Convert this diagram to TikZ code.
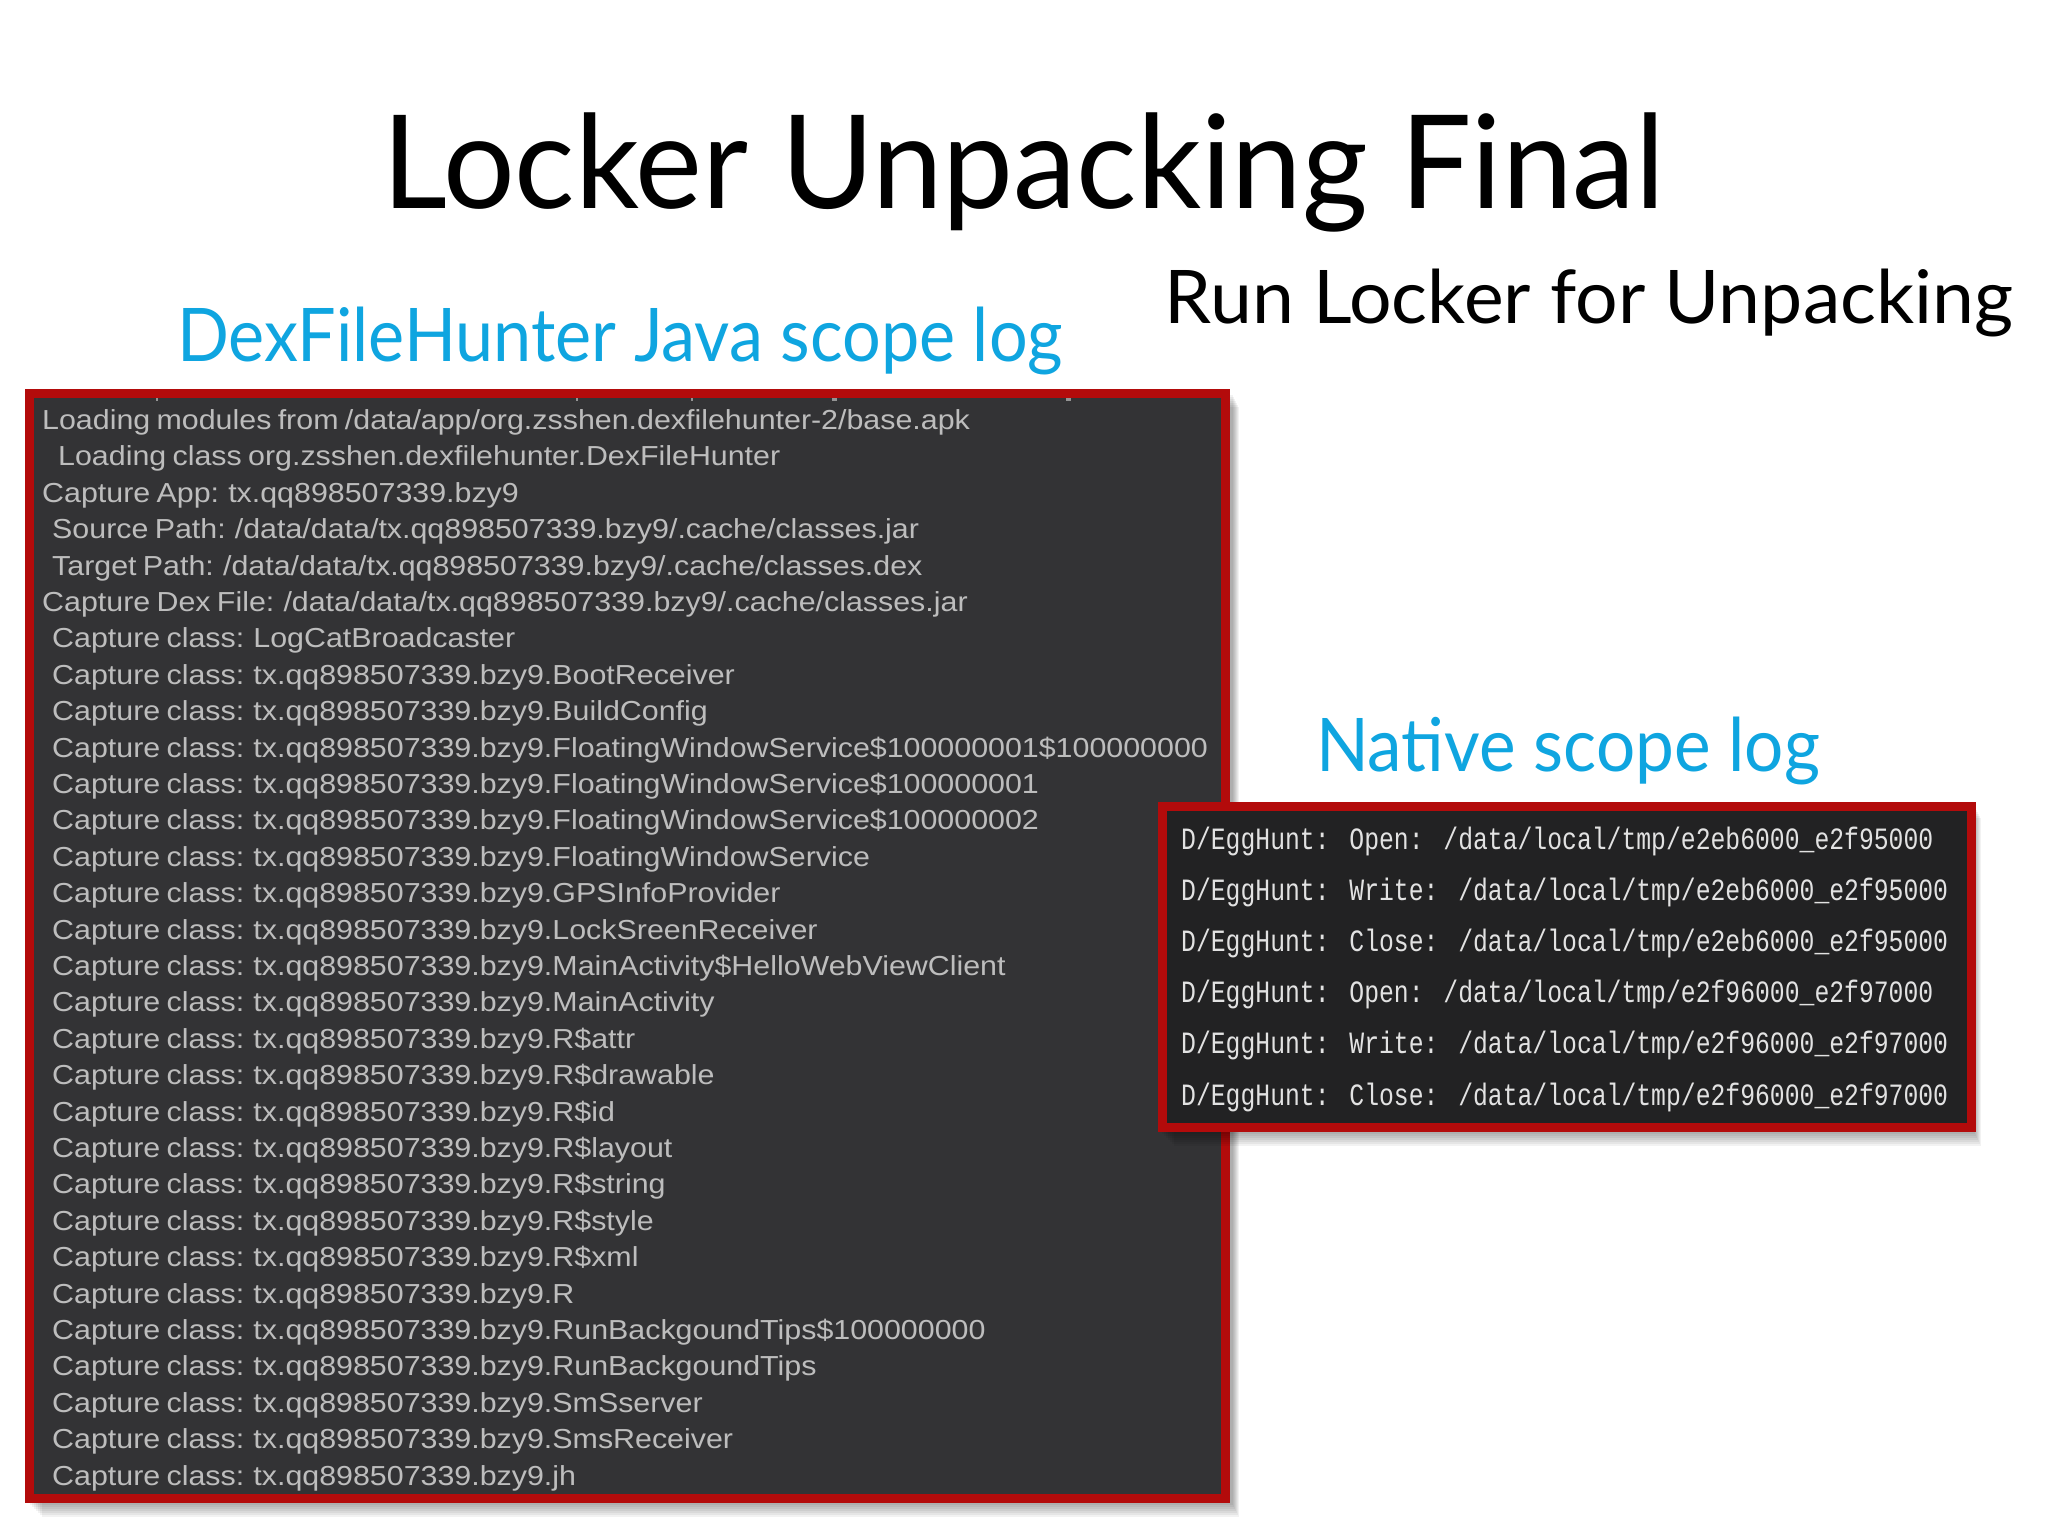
\documentclass[tikz,border=0pt]{standalone}
\usepackage{fontspec}
\setmainfont{Lato}
\newfontfamily\logfont[FakeStretch=1.105,WordSpace=0.75]{Liberation Sans}
\newfontfamily\conlogfont[FakeStretch=0.798]{Liberation Mono}
\newfontfamily\titlefont[FakeStretch=0.973]{Lato}
\newfontfamily\runfont[FakeStretch=1.016]{Lato}
\newfontfamily\javafont[FakeStretch=0.923]{Lato}
\newfontfamily\nativefont[FakeStretch=0.936]{Lato}
\definecolor{cyanhead}{HTML}{0FA5E0}
\definecolor{frame}{HTML}{B30B0B}
\definecolor{panela}{HTML}{333335}
\definecolor{panelb}{HTML}{222223}
\definecolor{logtext}{HTML}{BDBDBD}
\definecolor{context}{HTML}{E2E2E2}
\tikzset{x=1pt,y=-1pt,
  headline/.style={inner sep=0pt,anchor=base,text=#1},
  logline/.style={inner sep=0pt,anchor=base west,text=logtext,font=\logfont\fontsize{27.5}{27.5}\selectfont},
  conline/.style={inner sep=0pt,anchor=base west,text=context,font=\conlogfont\fontsize{31}{31}\selectfont},
  panel/.style={draw=frame,line width=9pt,fill=#1},
  shadowlayer/.style={fill=black,opacity=0.05,draw=none},
  cliptick/.style={fill=logtext!70!panela,draw=none}
}
\begin{document}
\begin{tikzpicture}
\useasboundingbox (0,0) rectangle (2048,1536);
\fill[white] (0,0) rectangle (2048,1536);
% left panel
\foreach \d in {2,4,6,8,10,12,14}{\fill[shadowlayer] (28+\d,393+\d) rectangle (1232+\d/2,1503+\d);}
\draw[panel=panela] (29,393.5) rectangle (1225,1498.5);
% clipped descenders of the line above the visible log
\foreach \tx/\tw in {156/2,576/2,691/2,832/5,1066/5}{\fill[cliptick] (\tx,398) rectangle (\tx+\tw,401);}
\foreach \n/\dx/\t [count=\i from 0] in {
 a/42/{Loading modules from /data/app/org.zsshen.dexfilehunter-2/base.apk},
 b/58/{Loading class org.zsshen.dexfilehunter.DexFileHunter},
 c/42/{Capture App: tx.qq898507339.bzy9},
 d/52/{Source Path: /data/data/tx.qq898507339.bzy9/.cache/classes.jar},
 e/52/{Target Path: /data/data/tx.qq898507339.bzy9/.cache/classes.dex},
 f/42/{Capture Dex File: /data/data/tx.qq898507339.bzy9/.cache/classes.jar},
 g/52/{Capture class: LogCatBroadcaster},
 h/52/{Capture class: tx.qq898507339.bzy9.BootReceiver},
 i/52/{Capture class: tx.qq898507339.bzy9.BuildConfig},
 j/52/{Capture class: tx.qq898507339.bzy9.FloatingWindowService\$100000001\$100000000},
 k/52/{Capture class: tx.qq898507339.bzy9.FloatingWindowService\$100000001},
 l/52/{Capture class: tx.qq898507339.bzy9.FloatingWindowService\$100000002},
 m/52/{Capture class: tx.qq898507339.bzy9.FloatingWindowService},
 n/52/{Capture class: tx.qq898507339.bzy9.GPSInfoProvider},
 o/52/{Capture class: tx.qq898507339.bzy9.LockSreenReceiver},
 p/52/{Capture class: tx.qq898507339.bzy9.MainActivity\$HelloWebViewClient},
 q/52/{Capture class: tx.qq898507339.bzy9.MainActivity},
 r/52/{Capture class: tx.qq898507339.bzy9.R\$attr},
 s/52/{Capture class: tx.qq898507339.bzy9.R\$drawable},
 t/52/{Capture class: tx.qq898507339.bzy9.R\$id},
 u/52/{Capture class: tx.qq898507339.bzy9.R\$layout},
 v/52/{Capture class: tx.qq898507339.bzy9.R\$string},
 w/52/{Capture class: tx.qq898507339.bzy9.R\$style},
 x/52/{Capture class: tx.qq898507339.bzy9.R\$xml},
 y/52/{Capture class: tx.qq898507339.bzy9.R},
 z/52/{Capture class: tx.qq898507339.bzy9.RunBackgoundTips\$100000000},
 aa/52/{Capture class: tx.qq898507339.bzy9.RunBackgoundTips},
 ab/52/{Capture class: tx.qq898507339.bzy9.SmSserver},
 ac/52/{Capture class: tx.qq898507339.bzy9.SmsReceiver},
 ad/52/{Capture class: tx.qq898507339.bzy9.jh}}
 {\node[logline] (log\n) at (\dx,429.5+\i*36.4) {\t};}
% right panel
\foreach \d in {2,4,6,8,10,12,14}{\fill[shadowlayer] (1160+\d,804+\d) rectangle (1974+\d/2,1132+\d);}
\draw[panel=panelb] (1162.5,806) rectangle (1971,1127.5);
\foreach \n/\t [count=\i from 0] in {
 a/{D/EggHunt: Open: /data/local/tmp/e2eb6000\_e2f95000},
 b/{D/EggHunt: Write: /data/local/tmp/e2eb6000\_e2f95000},
 c/{D/EggHunt: Close: /data/local/tmp/e2eb6000\_e2f95000},
 d/{D/EggHunt: Open: /data/local/tmp/e2f96000\_e2f97000},
 e/{D/EggHunt: Write: /data/local/tmp/e2f96000\_e2f97000},
 f/{D/EggHunt: Close: /data/local/tmp/e2f96000\_e2f97000}}
 {\node[conline] (con\n) at (1181,849+\i*51.2) {\t};}
% headings
\node[headline=black,font=\titlefont\fontsize{130}{130}\selectfont] (title) at (1024,208) {Locker Unpacking Final};
\node[headline=black,font=\runfont\fontsize{74}{74}\selectfont] (run) at (1589,323) {Run Locker for Unpacking};
\node[headline=cyanhead,font=\javafont\fontsize{74}{74}\selectfont] (java) at (620,361) {DexFileHunter Java scope log};
\node[headline=cyanhead,font=\nativefont\fontsize{74}{74}\selectfont] (native) at (1568,771) {Native scope log};
\end{tikzpicture}
\end{document}
